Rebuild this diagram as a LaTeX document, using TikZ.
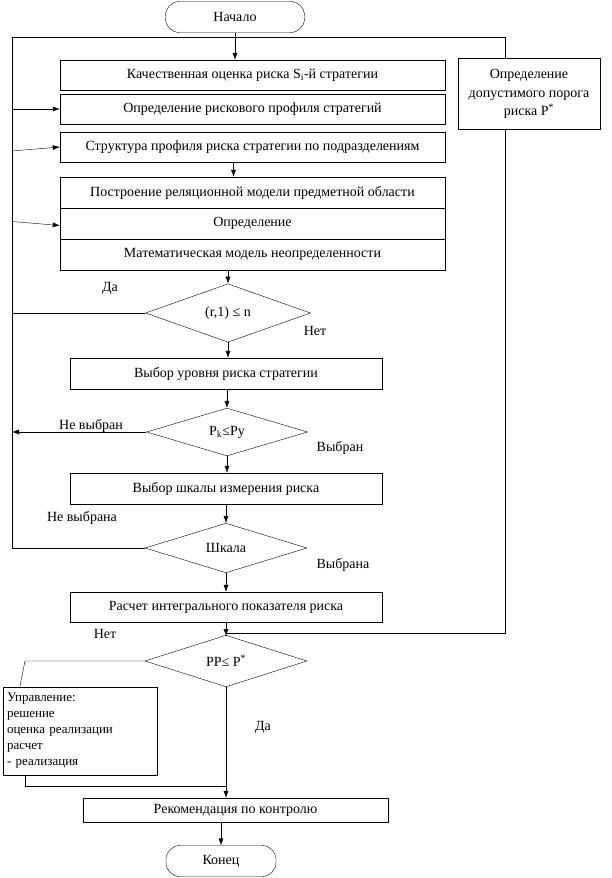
\documentclass[tikz,border=0pt]{standalone}
\usepackage{fontspec}
\setmainfont{Liberation Serif}
\usepackage{tikz}
\usetikzlibrary{shapes.geometric,arrows.meta}
\tikzset{
    stepbox/.style={draw, rectangle, inner sep=2pt},
    condbox/.style={draw, diamond, inner sep=0pt},
    termbox/.style={draw, rectangle, rounded corners=14pt, minimum height=31pt},
    flowline/.style={-{Latex[length=7pt,width=5pt]}},
    lbl/.style={inner sep=1pt},
}

\begin{document}
\begin{tikzpicture}[x=1pt,y=-1pt,font=\fontsize{14}{17}\selectfont]
  \useasboundingbox (0,0) rectangle (612,878);
  % loop corners
  \coordinate (tl) at (12,37);
  \coordinate (tr) at (505,37);
  \coordinate (br) at (505,633);
  \coordinate (join) at (226,636);
  \coordinate (ubend) at (25,661);
  \coordinate (uleft) at (25,786);
  % start and first blocks
  \node[termbox, minimum width=139pt] (start) at (235,17) {Начало};
  \node[stepbox, minimum width=385pt, minimum height=30pt] (box1) at (252.5,75)
    {Качественная оценка риска S\textsubscript{i}-й стратегии};
  \node[stepbox, minimum width=385pt, minimum height=30pt] (box2) at (252.5,109)
    {Определение рискового профиля стратегий};
  \node[stepbox, minimum width=385pt, minimum height=30pt] (box3) at (252.5,147)
    {Структура профиля риска стратегии по подразделениям};
  % stacked block
  \node[stepbox, minimum width=385pt, minimum height=31pt] (box4a) at (252.5,192.5)
    {Построение реляционной модели предметной области};
  \node[stepbox, minimum width=385pt, minimum height=31pt] (box4b) at (252.5,223.5)
    {Определение};
  \node[stepbox, minimum width=385pt, minimum height=31pt] (box4c) at (252.5,254.5)
    {Математическая модель неопределенности};
  \node[stepbox, minimum width=142pt, minimum height=71pt, align=center,
        font=\fontsize{14}{18.5}\selectfont] (risk) at (529,94)
    {Определение\\допустимого порога\\риска P\textsuperscript{*}};
  % conditions and blocks below
  \node[condbox, minimum width=165pt, minimum height=45pt] (d1) at (228,313) {(r,1) ≤ n};
  \node[stepbox, minimum width=312pt, minimum height=31pt] (box5) at (226,373.5)
    {Выбор уровня риска стратегии};
  \node[condbox, minimum width=161pt, minimum height=47pt] (d2) at (227,432)
    {P\textsubscript{k}≤Py};
  \node[stepbox, minimum width=312pt, minimum height=31pt] (box6) at (226,488.5)
    {Выбор шкалы измерения риска};
  \node[condbox, minimum width=162pt, minimum height=45pt] (d3) at (226,548) {Шкала};
  \node[stepbox, minimum width=312pt, minimum height=30pt] (box7) at (226,607)
    {Расчет интегрального показателя риска};
  \node[condbox, minimum width=162pt, minimum height=37pt] (d4) at (226,661)
    {PP≤ P\textsuperscript{*}};
  \node[stepbox, minimum width=154pt, minimum height=88pt, align=left, text width=146pt,
        font=\fontsize{13}{16}\selectfont] (upr) at (80,731)
    {Управление:\\решение\\оценка реализации\\расчет\\- реализация};
  \node[stepbox, minimum width=305pt, minimum height=24pt] (box8) at (235.5,810)
    {Рекомендация по контролю};
  \node[termbox, minimum width=110pt] (end) at (221,861) {Конец};
  % labels
  \node[lbl] (l1) at (110,288) {Да};
  \node[lbl] (l2) at (315,331) {Нет};
  \node[lbl] (l3) at (91,426) {Не выбран};
  \node[lbl] (l4) at (340,448) {Выбран};
  \node[lbl] (l5) at (82,518) {Не выбрана};
  \node[lbl] (l6) at (343,565) {Выбрана};
  \node[lbl] (l7) at (105,634) {Нет};
  \node[lbl] (l8) at (263,727) {Да};
  % main flow
  \draw[flowline] (start.south) -- (start |- box1.north);
  \draw[flowline] ([xshift=-19pt]box3.south) -- ([xshift=-19pt]box4a.north);
  \draw[flowline] (box4c.south -| d1) -- (d1.north);
  \draw[flowline] (d1.south) -- (d1.south |- box5.north);
  \draw[flowline] (box5.south -| d2) -- (d2.north);
  \draw[flowline] (d2.south) -- (d2.south |- box6.north);
  \draw[flowline] (box6.south -| d3) -- (d3.north);
  \draw[flowline] (d3.south) -- (d3.south |- box7.north);
  \draw[flowline] (box7.south -| join) -- (join);
  \draw (join) -- (d4.north);
  \draw[flowline] (d4.south) -- (d4.south |- box8.north);
  \draw[flowline] (box8.south -| end) -- (end.north);
  % loops on the left
  \draw (d3.west) -- (d3.west -| tl) -- (tl) -- (tr) -- (tr |- risk.north);
  \draw (risk.south -| tr) -- (br) -- (br -| join);
  \draw[flowline] (box2.west -| tl) -- (box2.west);
  \draw[flowline] ([yshift=-4pt]box3.west -| tl) -- (box3.west);
  \draw[flowline] ([yshift=2pt]box4b.west -| tl) -- ([yshift=-2pt]box4b.west);
  \draw (d1.west) -- (d1.west -| tl);
  \draw[flowline] (d2.west) -- (d2.west -| tl);
  % control branch
  \draw (d4.west) -- (d4.west -| ubend) -- ([xshift=17pt]upr.north west);
  \draw (uleft |- upr.south) -- (uleft) -- (uleft -| d4);
\end{tikzpicture}
\end{document}
